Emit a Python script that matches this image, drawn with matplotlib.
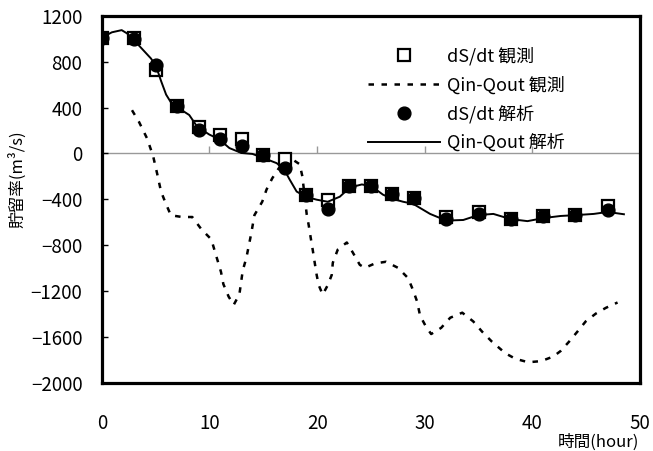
import matplotlib
matplotlib.use("Agg")
import matplotlib.pyplot as plt

plt.rcParams['font.family'] = ['Noto Sans CJK JP', 'DejaVu Sans']

# sampled times (hour) for dS/dt
obs_t = [0, 3, 5, 7, 9, 11, 13, 15, 17, 19, 21, 23, 25, 27, 29, 32, 35, 38, 41, 44, 47]
ds_obs = [1010, 1010, 725, 411, 233, 165, 123, -13, -49, -359, -403, -288, -288,
          -350, -386, -550, -510, -572, -545, -537, -460]
ds_ana = [1010, 1000, 768, 411, 208, 123, 64, -13, -129, -359, -483, -288, -288,
          -350, -386, -575, -530, -572, -545, -537, -495]

# Qin-Qout analysis (solid line)
ana_t = [0, 0.93, 1.84, 2.33, 2.89, 3.73, 4.57, 5.04, 5.5, 5.97, 6.53, 7.0, 8.12,
         8.86, 9.98, 10.91, 11.85, 12.97, 13.99, 15.02, 16.23, 16.88, 17.44, 18.1,
         18.94, 19.96, 20.99, 22.11, 23.04, 24.16, 25.09, 26.12, 26.96, 27.99, 28.92,
         30.5, 32.0, 33.58, 34.98, 36.38, 37.97, 39.55, 41.04, 42.63, 44.12, 45.71,
         47.01, 48.51]
ana_q = [1010, 1056, 1075, 1047, 997, 912, 827, 759, 632, 513, 428, 403, 335,
         233, 165, 123, 47, 4, -4, -40, -84, -129, -226, -332,
         -377, -403, -421, -377, -297, -270, -288, -359, -394, -421, -439,
         -527, -585, -580, -537, -527, -572, -590, -563, -545, -537, -527,
         -510, -530]

# Qin-Qout observation (dotted line)
obs_qt = [2.8, 3.45, 4.2, 4.76, 5.13, 5.5, 5.94, 6.41, 7.46, 8.4, 9.24, 10.17, 10.73,
          11.07, 11.29, 11.78, 12.25, 12.78, 12.94, 13.09, 13.43, 13.87, 14.18, 14.9,
          15.3, 15.83, 17.2, 18.38, 18.63, 19.03, 19.22, 19.4, 19.59, 19.78, 19.96,
          20.15, 20.52, 20.99, 21.36, 21.46, 21.92, 22.76, 23.32, 23.97, 24.44, 25.37,
          26.4, 27.52, 28.45, 28.92, 29.29, 29.57, 30.13, 30.6, 31.53, 32.37, 33.49,
          34.51, 35.33, 36.26, 37.5, 38.43, 39.62, 40.83, 41.95, 42.63, 43.4, 44.19,
          44.96, 45.9, 46.83, 47.92]
obs_q = [377, 275, 131, -22, -173, -333, -436, -539, -554, -554, -660, -749, -926,
         -1033, -1139, -1248, -1320, -1228, -1121, -1021, -909, -702, -537, -421,
         -315, -217, -20, -94, -199, -527, -625, -731, -838, -953, -1059,
         -1148, -1230, -1148, -1059, -953, -838, -776, -864, -971, -997, -959,
         -944, -997, -1086, -1192, -1290, -1414, -1512, -1574, -1520, -1432, -1388,
         -1464, -1553, -1642, -1742, -1790, -1820, -1810, -1770, -1722, -1642, -1553,
         -1464, -1396, -1346, -1299]

x_ticks = [0, 10, 20, 30, 40, 50]
y_ticks = [1200, 800, 400, 0, -400, -800, -1200, -1600, -2000]

fig = plt.figure(figsize=(6.53, 4.51), dpi=100)
ax = fig.add_axes([0.156, 0.151, 0.824, 0.814])

ax.axhline(0, color='#999999', lw=1.0, zorder=1)
ax.plot(x_ticks[1:-1], [0] * 4, ls='none', marker=2, ms=5, mew=1.0,
        color='#999999', zorder=1)

ax.plot(obs_t, ds_obs, ls='none', marker='s', ms=8.5, mfc='white', mec='black',
        mew=1.6, zorder=3, label='dS/dt 観測')
ax.plot(obs_qt, obs_q, color='black', lw=1.8, ls=(0, (2.2, 3.0)), zorder=2,
        label='Qin-Qout 観測')
ax.plot(obs_t, ds_ana, ls='none', marker='o', ms=9.2, mfc='black', mec='black',
        zorder=5, label='dS/dt 解析')
ax.plot(ana_t, ana_q, color='black', lw=1.4, zorder=4, label='Qin-Qout 解析')

ax.set_xlim(0, 50)
ax.set_ylim(-2000, 1200)
ax.set_xticks(x_ticks)
ax.set_yticks(y_ticks)
ax.tick_params(axis='x', length=0, pad=22, labelsize=13.5)
ax.tick_params(axis='y', direction='in', length=4, width=1, pad=14, labelsize=13.5)
for s in ax.spines.values():
    s.set_linewidth(2.3)

ax.set_ylabel('貯留率(m³/s)', fontsize=12)
ax.yaxis.set_label_coords(-0.14, 0.555)
fig.text(598 / 653, 1 - 442 / 451, '時間(hour)', fontsize=12,
         ha='center', va='center')

ax.legend(loc='upper left', bbox_to_anchor=(0.494, 0.915), frameon=False,
          fontsize=13, handlelength=4.0, handletextpad=0.4, labelspacing=0.58,
          borderpad=0, borderaxespad=0)

fig.savefig('out.png', dpi=100)
